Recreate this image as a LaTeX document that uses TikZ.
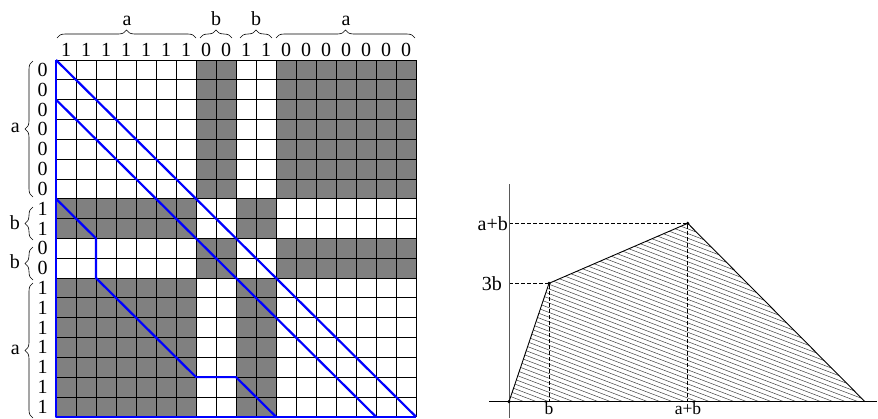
\documentclass[tikz,border=0pt]{standalone}
\usepackage{fontspec}
\setmainfont{Liberation Serif}
\usetikzlibrary{decorations.pathreplacing}
\begin{document}
\begin{tikzpicture}[x=1pt,y=-1pt,
  lbl/.style={font=\fontsize{20}{22}\selectfont, inner sep=0pt},
  lblsm/.style={font=\fontsize{17.5}{19}\selectfont, inner sep=0pt},
  bluel/.style={draw=blue, line width=2.2pt, line join=round},
  gcell/.style={fill=black!50},
  gridl/.style={draw=black, line width=0.8pt},
  brc/.style={decorate, decoration={brace, amplitude=8pt}, line width=0.6pt},
  hatch/.style={draw=black!75, line width=0.5pt},
  dashl/.style={draw=black, line width=0.7pt, dash pattern=on 4pt off 2pt},
  axisl/.style={line width=1pt},
  dot/.style={circle, fill=black, inner sep=0pt, minimum size=3.5pt}]
\useasboundingbox (0,0) rectangle (878,418);
% ---------- matrix ----------
\begin{scope}[shift={(56,60)}, x=20pt, y=-19.82pt]
  \fill[gcell] (7,0) rectangle (9,7);
  \fill[gcell] (11,0) rectangle (18,7);
  \fill[gcell] (0,7) rectangle (7,9);
  \fill[gcell] (9,7) rectangle (11,9);
  \fill[gcell] (7,9) rectangle (9,11);
  \fill[gcell] (11,9) rectangle (18,11);
  \fill[gcell] (0,11) rectangle (7,18);
  \fill[gcell] (9,11) rectangle (11,18);
  \foreach \i in {0,...,18} {
    \draw[gridl] (\i,0) -- (\i,18);
    \draw[gridl] (0,\i) -- (18,\i);
  }
  \coordinate (m00) at (0,0);
  \coordinate (m018) at (0,18);
  \coordinate (m1818) at (18,18);
  \draw[bluel] (m00) -- (m1818);
  \draw[bluel] (0,2) -- (16,18);
  \draw[bluel] (0,7) -- (2,9) -- (2,11) -- (7,16) -- (9,16) -- (11,18);
  \draw[bluel] (m00) -- (m018) -- (m1818);
  \foreach \v [count=\i from 0] in {1,1,1,1,1,1,1,0,0,1,1,0,0,0,0,0,0,0}
    \node[lbl] (c\i) at (\i+0.5,-0.53) {\v};
  \foreach \v [count=\i from 0] in {0,0,0,0,0,0,0,1,1,0,0,1,1,1,1,1,1,1}
    \node[lbl] (r\i) at (-0.675,\i+0.5) {\v};
\end{scope}
% top braces
\draw[brc] (57,38) -- (196,38);
\draw[brc] (200,38) -- (232,38);
\draw[brc] (240,38) -- (272,38);
\draw[brc] (276,38) -- (415,38);
\node[lbl, anchor=base] (ta1) at (127,25) {a};
\node[lbl, anchor=base] (tb1) at (216,25) {b};
\node[lbl, anchor=base] (tb2) at (256,25) {b};
\node[lbl, anchor=base] (ta2) at (346,25) {a};
% left braces
\draw[brc] (33,197) -- (33,61);
\draw[brc] (33,240) -- (33,207);
\draw[brc] (33,280) -- (33,247);
\draw[brc] (33,418) -- (33,283);
\node[lbl, anchor=east] (la1) at (20,128) {a};
\node[lbl, anchor=east] (lb1) at (20,223) {b};
\node[lbl, anchor=east] (lb2) at (20,262) {b};
\node[lbl, anchor=east] (la2) at (20,350) {a};
% ---------- right plot ----------
\coordinate (O) at (509,401.7);
\coordinate (P1) at (549,283.3);
\coordinate (P2) at (687.7,223.3);
\coordinate (P3) at (865,401.7);
\coordinate (Y1) at (509,283.3);
\coordinate (Y2) at (509,223.3);
\coordinate (X1) at (549,401.7);
\coordinate (X2) at (687.7,401.7);
\begin{scope}
  \clip (O) -- (P1) -- (P2) -- (P3) -- cycle;
  \foreach \c in {70,74.7,...,400}
    \draw[hatch] (480,\c) -- (880,\c+152);
\end{scope}
\draw[dashl] (Y2) -- (P2) -- (X2);
\draw[dashl] (Y1) -- (P1) -- (X1);
\coordinate (vt) at (509,184);
\coordinate (vb) at (509,418);
\coordinate (hl) at (489,401.7);
\coordinate (hr) at (877,401.7);
\draw[axisl, draw=black!65] (vt) -- (vb);
\draw[axisl] (hl) -- (hr);
\draw[line width=0.9pt, line join=round] (O) -- (P1) -- (P2) -- (P3);
\node[dot] (dO) at (O) {};
\node[dot] (d1) at (P1) {};
\node[dot] (d2) at (P2) {};
\node[lbl, anchor=east] (ly2) at (508,223.3) {a+b};
\node[lbl, anchor=east] (ly1) at (502,283.3) {3b};
\node[lblsm, anchor=base] (lx1) at (549,414.5) {b};
\node[lblsm, anchor=base] (lx2) at (688,414.5) {a+b};
\end{tikzpicture}
\end{document}
